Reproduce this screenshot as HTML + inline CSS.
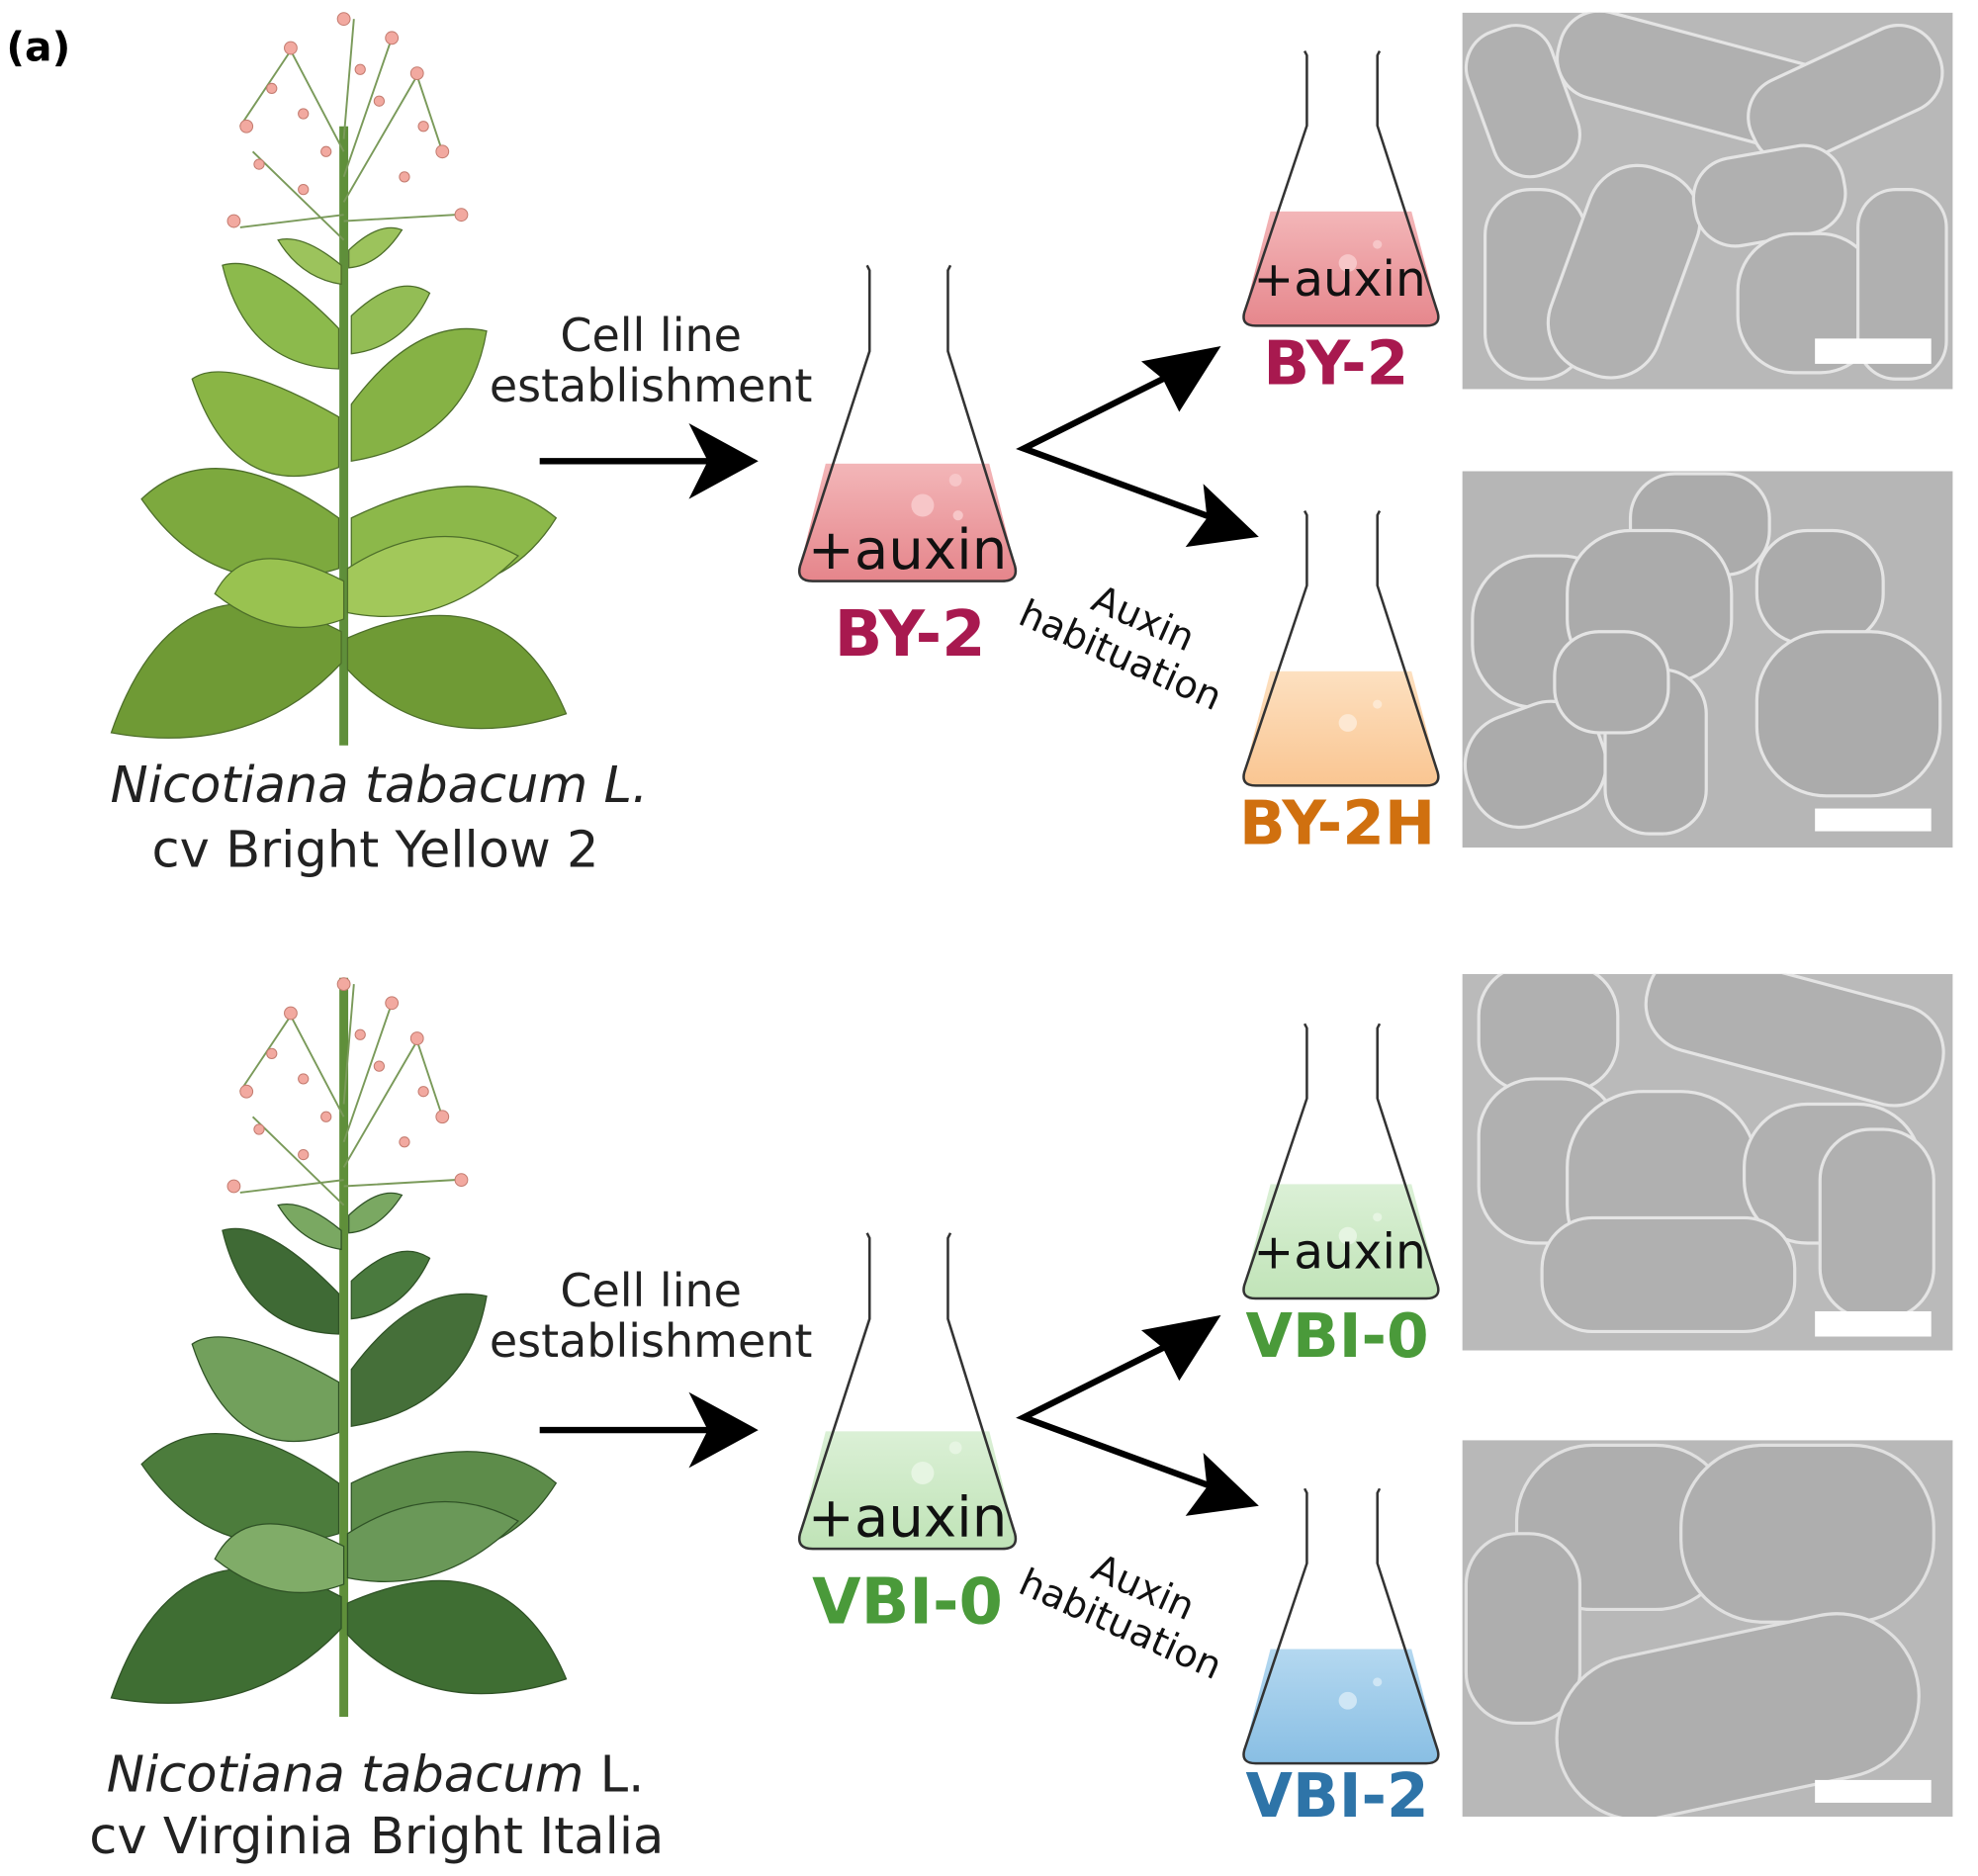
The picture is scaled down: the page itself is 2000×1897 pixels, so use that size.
<!DOCTYPE html>
<html><head><meta charset="utf-8"><style>
html,body{margin:0;padding:0;background:#fff;}
svg{display:block;}
text{font-family:"DejaVu Sans","Liberation Sans",sans-serif;}
</style></head><body>
<svg width="2000" height="1897" viewBox="0 0 1565 1485" preserveAspectRatio="none" xmlns="http://www.w3.org/2000/svg">
<defs>
<linearGradient id="pk" x1="0" y1="0" x2="0" y2="1"><stop offset="0" stop-color="#f3b6b8"/><stop offset="1" stop-color="#e5848a"/></linearGradient>
<linearGradient id="or" x1="0" y1="0" x2="0" y2="1"><stop offset="0" stop-color="#fde0c0"/><stop offset="1" stop-color="#f9c48f"/></linearGradient>
<linearGradient id="gr" x1="0" y1="0" x2="0" y2="1"><stop offset="0" stop-color="#dbf0d6"/><stop offset="1" stop-color="#bfe3b6"/></linearGradient>
<linearGradient id="bl" x1="0" y1="0" x2="0" y2="1"><stop offset="0" stop-color="#b4d8f0"/><stop offset="1" stop-color="#86bde3"/></linearGradient>
<clipPath id="fb"><path d="M0 0 L60 0 L115 220 Q118 232 105 232 L-45 232 Q-58 232 -55 220 Z"/></clipPath>
</defs>

<text x="5" y="48" font-size="32" font-weight="bold">(a)</text>

<!-- ===== TOP HALF ===== -->
<g>
<g>
<path d="M272 100 L272 590" stroke="#5f8f3a" stroke-width="7"/>
<g stroke="#7a9a5a" stroke-width="1.5" fill="none">
<path d="M272 190 L200 120 M272 160 L330 60 M272 120 L230 40 M272 140 L310 30 M272 170 L190 180 M272 175 L360 170 M272 110 L280 15 M230 40 L190 100 M330 60 L350 120"/>
</g>
<g fill="#f2a9a0" stroke="#c47c70" stroke-width="0.8">
<circle cx="272" cy="15" r="5"/><circle cx="230" cy="38" r="5"/><circle cx="310" cy="30" r="5"/><circle cx="330" cy="58" r="5"/><circle cx="195" cy="100" r="5"/><circle cx="240" cy="90" r="4"/><circle cx="300" cy="80" r="4"/><circle cx="350" cy="120" r="5"/><circle cx="205" cy="130" r="4"/><circle cx="185" cy="175" r="5"/><circle cx="365" cy="170" r="5"/><circle cx="320" cy="140" r="4"/><circle cx="240" cy="150" r="4"/><circle cx="285" cy="55" r="4"/><circle cx="215" cy="70" r="4"/><circle cx="335" cy="100" r="4"/><circle cx="258" cy="120" r="4"/>
</g>
<g stroke="#4d6e2a" stroke-width="1">
<path d="M270 500 Q140 430 88 580 Q200 600 270 525 Z" fill="#6f9a35"/>
<path d="M275 505 Q400 450 448 565 Q340 600 275 530 Z" fill="#6f9a35"/>
<path d="M268 410 Q170 340 112 395 Q170 480 268 450 Z" fill="#7da93e"/>
<path d="M278 410 Q380 360 440 410 Q390 490 278 460 Z" fill="#8cb84a"/>
<path d="M268 330 Q180 280 152 300 Q185 400 268 370 Z" fill="#8ab545"/>
<path d="M278 320 Q330 250 385 262 Q370 350 278 365 Z" fill="#86b245"/>
<path d="M268 260 Q210 200 176 210 Q195 290 268 292 Z" fill="#8cba4c"/>
<path d="M278 250 Q315 215 340 232 Q320 275 278 280 Z" fill="#93bd55"/>
<path d="M270 210 Q240 185 220 190 Q238 220 270 225 Z" fill="#9cc35c"/>
<path d="M276 198 Q300 175 318 182 Q300 210 276 212 Z" fill="#9cc35c"/>
<path d="M272 460 Q195 420 170 470 Q220 510 272 490 Z" fill="#99c250"/>
<path d="M275 450 Q345 405 410 440 Q350 500 275 485 Z" fill="#a2c85a"/>
</g>
</g>
<text x="300" y="635" font-size="40" font-style="italic" text-anchor="middle" fill="#222">Nicotiana tabacum L.</text>
<text x="297" y="686" font-size="40" text-anchor="middle" fill="#222">cv Bright Yellow 2</text>
<text x="515" y="278" font-size="36" text-anchor="middle" fill="#222">Cell line</text>
<text x="515" y="318" font-size="36" text-anchor="middle" fill="#222">establishment</text>
<path d="M427 365 L560 365" stroke="#000" stroke-width="5"/>
<path d="M600 365 L545 335 L560 365 L545 395 Z" fill="#000"/>

<g transform="translate(688,228)">
<rect x="-60" y="139" width="180" height="95" fill="url(#pk)" clip-path="url(#fb)"/>
<circle cx="42" cy="172" r="9" fill="#f7c6c8"/><circle cx="68" cy="152" r="5" fill="#f7c6c8"/><circle cx="70" cy="180" r="4" fill="#f7c6c8"/>
<path d="M-2 -18 L0 -14 L0 50 L-55 220 Q-58 232 -45 232 L105 232 Q118 232 115 220 L62 50 L62 -14 L64 -18" fill="none" stroke="#333" stroke-width="2"/>
</g>
<text x="718" y="450" font-size="44" text-anchor="middle" fill="#111">+auxin</text>
<text x="720" y="519" font-size="50" font-weight="bold" text-anchor="middle" fill="#a8194f">BY-2</text>

<path d="M930 295 L810 355 L965 412" fill="none" stroke="#000" stroke-width="5"/>
<path d="M966 274 L903 286 L920 300 L933 326 Z" fill="#000"/>
<path d="M996 425 L952 383 L955 410 L938 433 Z" fill="#000"/>
<text transform="translate(818,462) rotate(24)" font-size="30" fill="#111"><tspan x="48" y="0">Auxin</tspan><tspan x="0" y="34">habituation</tspan></text>

<g transform="translate(1034,56) scale(0.9,0.87)">
<rect x="-60" y="128" width="180" height="110" fill="url(#pk)" clip-path="url(#fb)"/>
<circle cx="36" cy="175" r="8" fill="#f7c6c8"/><circle cx="62" cy="158" r="4" fill="#f7c6c8"/>
<path d="M-2 -18 L0 -14 L0 50 L-55 220 Q-58 232 -45 232 L105 232 Q118 232 115 220 L62 50 L62 -14 L64 -18" fill="none" stroke="#333" stroke-width="2.2"/>
</g>
<text x="1060" y="234" font-size="38" text-anchor="middle" fill="#111">+auxin</text>
<text x="1057" y="304" font-size="48" font-weight="bold" text-anchor="middle" fill="#a8194f">BY-2</text>

<g transform="translate(1034,420) scale(0.9,0.87)">
<rect x="-60" y="128" width="180" height="110" fill="url(#or)" clip-path="url(#fb)"/>
<circle cx="36" cy="175" r="8" fill="#fde8d2"/><circle cx="62" cy="158" r="4" fill="#fde8d2"/>
<path d="M-2 -18 L0 -14 L0 50 L-55 220 Q-58 232 -45 232 L105 232 Q118 232 115 220 L62 50 L62 -14 L64 -18" fill="none" stroke="#333" stroke-width="2.2"/>
</g>
<text x="1058" y="668" font-size="48" font-weight="bold" text-anchor="middle" fill="#d0700f">BY-2H</text>

<svg x="1157" y="10" width="388" height="298" overflow="hidden">
<rect width="388" height="298" fill="#b8b8b8"/>
<g transform="translate(-1157,-10)" fill="#b0b0b0" stroke="#e4e4e4" stroke-width="2.5">
<rect x="1170" y="20" width="70" height="120" rx="30" transform="rotate(-20 1205 80)"/>
<rect x="1230" y="30" width="230" height="70" rx="32" transform="rotate(15 1345 65)"/>
<rect x="1380" y="40" width="160" height="70" rx="32" transform="rotate(-25 1460 75)"/>
<rect x="1175" y="150" width="80" height="150" rx="36"/>
<rect x="1240" y="130" width="90" height="170" rx="40" transform="rotate(20 1285 215)"/>
<rect x="1340" y="120" width="120" height="70" rx="32" transform="rotate(-10 1400 155)"/>
<rect x="1375" y="185" width="110" height="110" rx="45"/>
<rect x="1470" y="150" width="70" height="150" rx="30"/>
</g>
<rect x="279" y="258" width="92" height="20" fill="#fff"/>
</svg>

<svg x="1157" y="373" width="388" height="298" overflow="hidden">
<rect width="388" height="298" fill="#b6b6b6"/>
<g transform="translate(-1157,-373)" fill="#ababab" stroke="#e4e4e4" stroke-width="2.5">
<rect x="1290" y="375" width="110" height="80" rx="35"/>
<rect x="1165" y="440" width="120" height="120" rx="50"/>
<rect x="1240" y="420" width="130" height="120" rx="50"/>
<rect x="1390" y="420" width="100" height="90" rx="40"/>
<rect x="1160" y="560" width="110" height="90" rx="40" transform="rotate(-20 1215 605)"/>
<rect x="1270" y="530" width="80" height="130" rx="35"/>
<rect x="1390" y="500" width="145" height="130" rx="55"/>
<rect x="1230" y="500" width="90" height="80" rx="35"/>
</g>
<rect x="279" y="267" width="92" height="18" fill="#fff"/>
</svg>
</g>

<!-- ===== BOTTOM HALF ===== -->
<g transform="translate(0,764)">
<g>
<path d="M272 10 L272 595" stroke="#5f8f3a" stroke-width="7"/>
<g stroke="#7a9a5a" stroke-width="1.5" fill="none">
<path d="M272 190 L200 120 M272 160 L330 60 M272 120 L230 40 M272 140 L310 30 M272 170 L190 180 M272 175 L360 170 M272 110 L280 15 M230 40 L190 100 M330 60 L350 120"/>
</g>
<g fill="#f2a9a0" stroke="#c47c70" stroke-width="0.8">
<circle cx="272" cy="15" r="5"/><circle cx="230" cy="38" r="5"/><circle cx="310" cy="30" r="5"/><circle cx="330" cy="58" r="5"/><circle cx="195" cy="100" r="5"/><circle cx="240" cy="90" r="4"/><circle cx="300" cy="80" r="4"/><circle cx="350" cy="120" r="5"/><circle cx="205" cy="130" r="4"/><circle cx="185" cy="175" r="5"/><circle cx="365" cy="170" r="5"/><circle cx="320" cy="140" r="4"/><circle cx="240" cy="150" r="4"/><circle cx="285" cy="55" r="4"/><circle cx="215" cy="70" r="4"/><circle cx="335" cy="100" r="4"/><circle cx="258" cy="120" r="4"/>
</g>
<g stroke="#2f5226" stroke-width="1">
<path d="M270 500 Q140 430 88 580 Q200 600 270 525 Z" fill="#3f6e33"/>
<path d="M275 505 Q400 450 448 565 Q340 600 275 530 Z" fill="#3f6e33"/>
<path d="M268 410 Q170 340 112 395 Q170 480 268 450 Z" fill="#4c7c3c"/>
<path d="M278 410 Q380 360 440 410 Q390 490 278 460 Z" fill="#5d8c4a"/>
<path d="M268 330 Q180 280 152 300 Q185 400 268 370 Z" fill="#72a05c"/>
<path d="M278 320 Q330 250 385 262 Q370 350 278 365 Z" fill="#456f39"/>
<path d="M268 260 Q210 200 176 210 Q195 290 268 292 Z" fill="#3f6a35"/>
<path d="M278 250 Q315 215 340 232 Q320 275 278 280 Z" fill="#4a7a3e"/>
<path d="M270 210 Q240 185 220 190 Q238 220 270 225 Z" fill="#7aa862"/>
<path d="M276 198 Q300 175 318 182 Q300 210 276 212 Z" fill="#7aa862"/>
<path d="M272 460 Q195 420 170 470 Q220 510 272 490 Z" fill="#80ac68"/>
<path d="M275 450 Q345 405 410 440 Q350 500 275 485 Z" fill="#6a9858"/>
</g>
</g>
<text x="297" y="654" font-size="40" text-anchor="middle" fill="#222"><tspan font-style="italic">Nicotiana tabacum</tspan> L.</text>
<text x="298" y="703" font-size="40" text-anchor="middle" fill="#222">cv Virginia Bright Italia</text>
<text x="515" y="270" font-size="36" text-anchor="middle" fill="#222">Cell line</text>
<text x="515" y="310" font-size="36" text-anchor="middle" fill="#222">establishment</text>
<path d="M427 368 L560 368" stroke="#000" stroke-width="5"/>
<path d="M600 368 L545 338 L560 368 L545 398 Z" fill="#000"/>

<g transform="translate(688,230)">
<rect x="-60" y="139" width="180" height="95" fill="url(#gr)" clip-path="url(#fb)"/>
<circle cx="42" cy="172" r="9" fill="#e6f5e2"/><circle cx="68" cy="152" r="5" fill="#e6f5e2"/>
<path d="M-2 -18 L0 -14 L0 50 L-55 220 Q-58 232 -45 232 L105 232 Q118 232 115 220 L62 50 L62 -14 L64 -18" fill="none" stroke="#333" stroke-width="2"/>
</g>
<text x="718" y="452" font-size="44" text-anchor="middle" fill="#111">+auxin</text>
<text x="718" y="521" font-size="50" font-weight="bold" text-anchor="middle" fill="#4a9a3a">VBI-0</text>

<path d="M930 298 L810 358 L965 415" fill="none" stroke="#000" stroke-width="5"/>
<path d="M966 277 L903 289 L920 303 L933 329 Z" fill="#000"/>
<path d="M996 428 L952 386 L955 413 L938 436 Z" fill="#000"/>
<text transform="translate(818,465) rotate(24)" font-size="30" fill="#111"><tspan x="48" y="0">Auxin</tspan><tspan x="0" y="34">habituation</tspan></text>

<g transform="translate(1034,62) scale(0.9,0.87)">
<rect x="-60" y="128" width="180" height="110" fill="url(#gr)" clip-path="url(#fb)"/>
<circle cx="36" cy="175" r="8" fill="#e6f5e2"/><circle cx="62" cy="158" r="4" fill="#e6f5e2"/>
<path d="M-2 -18 L0 -14 L0 50 L-55 220 Q-58 232 -45 232 L105 232 Q118 232 115 220 L62 50 L62 -14 L64 -18" fill="none" stroke="#333" stroke-width="2.2"/>
</g>
<text x="1060" y="240" font-size="38" text-anchor="middle" fill="#111">+auxin</text>
<text x="1058" y="310" font-size="48" font-weight="bold" text-anchor="middle" fill="#4a9a3a">VBI-0</text>

<g transform="translate(1034,430) scale(0.9,0.87)">
<rect x="-60" y="128" width="180" height="110" fill="url(#bl)" clip-path="url(#fb)"/>
<circle cx="36" cy="175" r="8" fill="#cfe6f5"/><circle cx="62" cy="158" r="4" fill="#cfe6f5"/>
<path d="M-2 -18 L0 -14 L0 50 L-55 220 Q-58 232 -45 232 L105 232 Q118 232 115 220 L62 50 L62 -14 L64 -18" fill="none" stroke="#333" stroke-width="2.2"/>
</g>
<text x="1058" y="674" font-size="48" font-weight="bold" text-anchor="middle" fill="#2e74a8">VBI-2</text>

<svg x="1157" y="7" width="388" height="298" overflow="hidden">
<rect width="388" height="298" fill="#bababa"/>
<g transform="translate(-1157,-7)" fill="#b0b0b0" stroke="#e4e4e4" stroke-width="2.5">
<rect x="1170" y="0" width="110" height="100" rx="40"/>
<rect x="1300" y="10" width="240" height="80" rx="38" transform="rotate(15 1420 50)"/>
<rect x="1170" y="90" width="110" height="130" rx="45"/>
<rect x="1240" y="100" width="150" height="150" rx="60"/>
<rect x="1380" y="110" width="140" height="110" rx="50"/>
<rect x="1440" y="130" width="90" height="150" rx="40"/>
<rect x="1220" y="200" width="200" height="90" rx="40"/>
</g>
<rect x="279" y="267" width="92" height="20" fill="#fff"/>
</svg>

<svg x="1157" y="376" width="388" height="298" overflow="hidden">
<rect width="388" height="298" fill="#b8b8b8"/>
<g transform="translate(-1157,-376)" fill="#aeaeae" stroke="#e0e0e0" stroke-width="2.5">
<rect x="1200" y="380" width="170" height="130" rx="60"/>
<rect x="1160" y="450" width="90" height="150" rx="40"/>
<rect x="1330" y="380" width="200" height="140" rx="65"/>
<rect x="1230" y="530" width="290" height="130" rx="65" transform="rotate(-12 1375 595)"/>
</g>
<rect x="279" y="269" width="92" height="18" fill="#fff"/>
</svg>
</g>
</svg>
</body></html>
